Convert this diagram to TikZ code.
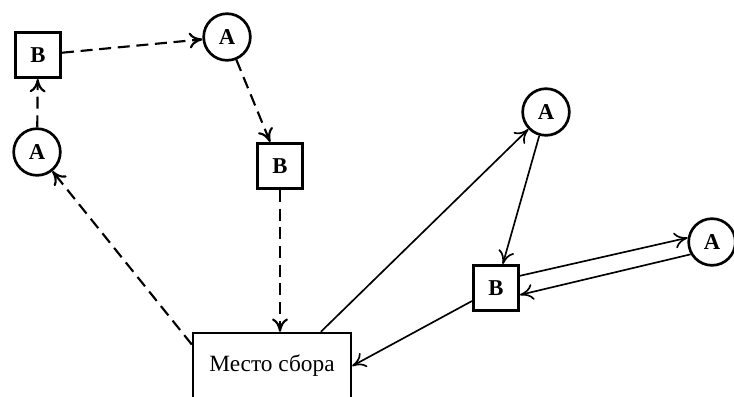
\documentclass[tikz,border=0pt]{standalone}
\usepackage{fontspec}
\setmainfont{Liberation Serif}
\usetikzlibrary{arrows,arrows.meta}

\begin{document}
\begin{tikzpicture}[x=0.75pt,y=0.75pt,yscale=-1,xscale=1,
  stop/.style={draw,circle,line width=2pt,minimum size=35pt,inner sep=0pt,font=\fontsize{17}{17}\selectfont\bfseries},
  base/.style={draw,rectangle,line width=2pt,minimum size=34pt,inner sep=0pt,font=\fontsize{17}{17}\selectfont\bfseries},
  walk/.style={-{To[length=10pt,width=12pt]},line width=1.6pt,dash pattern=on 9pt off 5pt},
  ride/.style={-{To[length=10pt,width=12pt]},line width=1.25pt}]
\useasboundingbox (0,0) rectangle (734,396);

% Meeting place
\node [draw,line width=1.3pt,minimum width=119pt,minimum height=50pt,font=\fontsize{17.5}{17.5}\selectfont] (meet) at (272,366) {Место сбора};

% Left loop
\node [stop] (a1) at (37,152) {А};
\node [base] (b1) at (38,55) {В};
\node [stop] (a2) at (227,37) {А};
\node [base] (b2) at (280,166) {В};

% Right loop
\node [stop] (a3) at (546,112) {А};
\node [base] (b3) at (496,288) {В};
\node [stop] (a4) at (712,242) {А};

%Dashed Lines
\draw [walk] (a1) -- (b1);
\draw [walk] (b1) -- (a2);
\draw [walk] (a2) -- (b2);
\draw [walk] (b2) -- (meet.north -| b2);
\draw [walk] (meet.165) -- (a1);

%Straight Lines
\draw [ride] (meet.35) -- (a3);
\draw [ride] (a3) -- (b3);
\draw [ride] (b3.27) -- (a4.170);
\draw [ride] (a4.210) -- (b3.-16);
\draw [ride] (b3) -- (meet.east);

\end{tikzpicture}
\end{document}
